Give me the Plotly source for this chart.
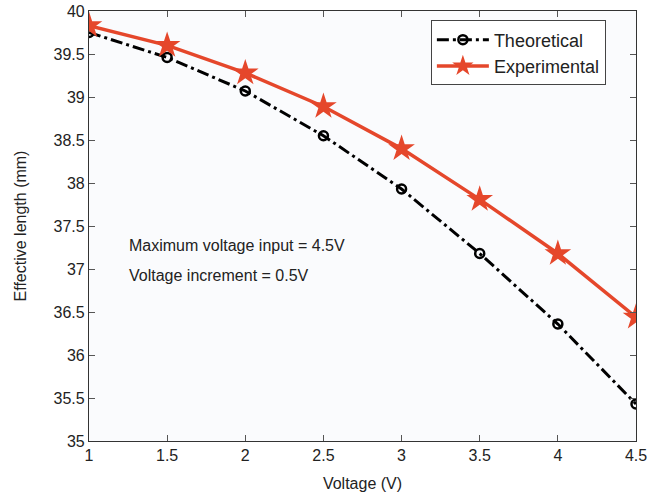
import plotly.graph_objects as go

voltage = [1, 1.5, 2, 2.5, 3, 3.5, 4, 4.5]
theoretical = [39.75, 39.46, 39.07, 38.55, 37.93, 37.18, 36.36, 35.43]
experimental = [39.83, 39.60, 39.28, 38.89, 38.40, 37.81, 37.18, 36.44]
x_ticks = [1, 1.5, 2, 2.5, 3, 3.5, 4, 4.5]
y_ticks = [35, 35.5, 36, 36.5, 37, 37.5, 38, 38.5, 39, 39.5, 40]

RED = "#e5472b"
FONT = "Liberation Sans, Arial, sans-serif"

fig = go.Figure()
fig.add_trace(go.Scatter(
    x=voltage, y=theoretical, name="Theoretical", mode="lines+markers",
    line=dict(color="black", width=3, dash="12px,4px,3px,4px"),
    marker=dict(symbol="circle-open", size=9, color="black", line=dict(width=2.5)),
))
fig.add_trace(go.Scatter(
    x=voltage, y=experimental, name="Experimental", mode="lines+markers",
    line=dict(color=RED, width=3.5),
    marker=dict(symbol="star", size=20, color=RED, line=dict(width=0)),
))

fig.add_annotation(x=1.24, y=37.27, xref="x", yref="y", text="Maximum voltage input = 4.5V",
                   showarrow=False, xanchor="left", font=dict(size=16, color="#222"))
fig.add_annotation(x=1.24, y=36.92, xref="x", yref="y", text="Voltage increment = 0.5V",
                   showarrow=False, xanchor="left", font=dict(size=16, color="#222"))

axis_common = dict(showgrid=False, zeroline=False, showline=True, linecolor="#333", linewidth=1.2,
                   mirror="ticks", ticks="inside", ticklen=6, tickcolor="#555",
                   tickfont=dict(size=16, color="#222"), automargin=False)

fig.update_xaxes(range=[1, 4.5], tickvals=x_ticks, ticktext=[f"{v:g}" for v in x_ticks],
                 title=dict(text="Voltage (V)", font=dict(size=16, color="#222"), standoff=14),
                 **axis_common)
fig.update_yaxes(range=[35, 40], tickvals=y_ticks, ticktext=[f"{v:g}" for v in y_ticks],
                 title=dict(text="Effective length (mm)", font=dict(size=16, color="#222"), standoff=22),
                 **axis_common)

fig.update_layout(
    width=660, height=497,
    margin=dict(l=89, r=24, t=11, b=56, autoexpand=False),
    paper_bgcolor="white", plot_bgcolor="#fafbfd",
    font=dict(family=FONT, color="#222"),
    showlegend=True,
    legend=dict(x=0.625, y=0.978, xanchor="left", yanchor="top",
                bgcolor="white", bordercolor="#444", borderwidth=1,
                font=dict(size=18, color="#222"), itemwidth=52, tracegroupgap=0),
)

fig.write_html("out.html")
